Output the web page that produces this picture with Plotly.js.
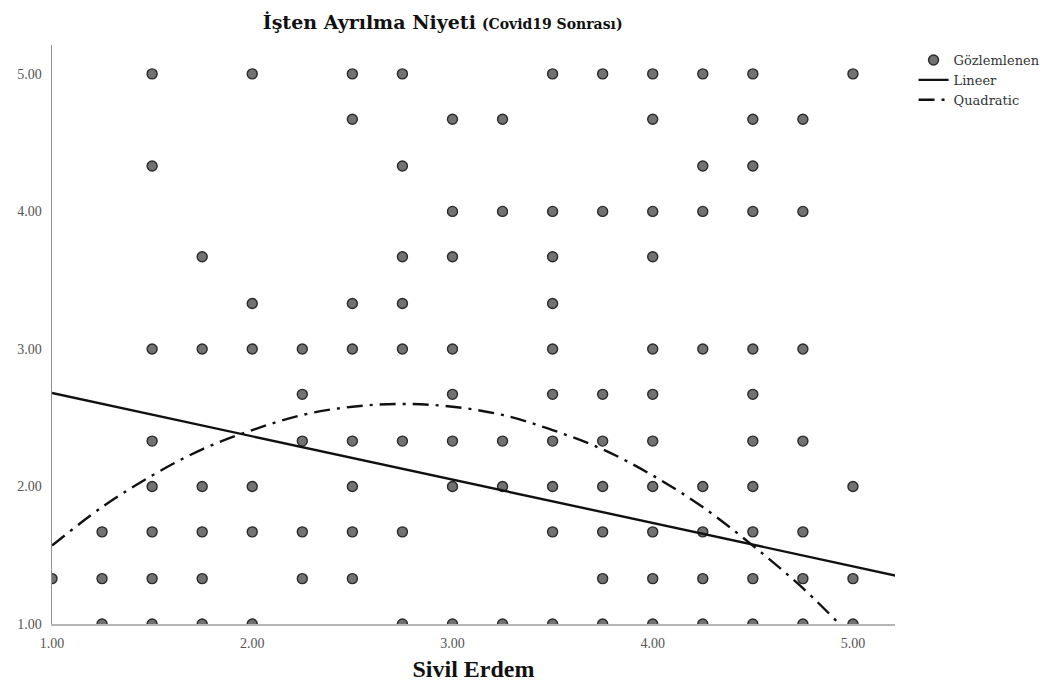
<!DOCTYPE html>
<html><head><meta charset="utf-8">
<script src="https://cdn.plot.ly/plotly-3.0.1.min.js"></script>
<style>html,body{margin:0;padding:0;background:#fff;}#chart{width:1059px;height:690px;}</style>
</head><body><div id="chart"></div>
<script>
// Observed points: one x-list per y level
const yLevels = [5.00, 4.67, 4.33, 4.00, 3.67, 3.33, 3.00, 2.67, 2.33, 2.00, 1.67, 1.33, 1.00];
const xByLevel = [
  [1.5, 2.0, 2.5, 2.75, 3.5, 3.75, 4.0, 4.25, 4.5, 5.0],
  [2.5, 3.0, 3.25, 4.0, 4.5, 4.75],
  [1.5, 2.75, 4.25, 4.5],
  [3.0, 3.25, 3.5, 3.75, 4.0, 4.25, 4.5, 4.75],
  [1.75, 2.75, 3.0, 3.5, 4.0],
  [2.0, 2.5, 2.75, 3.5],
  [1.5, 1.75, 2.0, 2.25, 2.5, 2.75, 3.0, 3.5, 4.0, 4.25, 4.5, 4.75],
  [2.25, 3.0, 3.5, 3.75, 4.0, 4.5],
  [1.5, 2.25, 2.5, 2.75, 3.0, 3.25, 3.5, 3.75, 4.0, 4.5, 4.75],
  [1.5, 1.75, 2.0, 2.5, 3.0, 3.25, 3.5, 3.75, 4.0, 4.25, 4.5, 5.0],
  [1.25, 1.5, 1.75, 2.0, 2.25, 2.5, 2.75, 3.5, 3.75, 4.0, 4.25, 4.5, 4.75],
  [1.0, 1.25, 1.5, 1.75, 2.25, 2.5, 3.75, 4.0, 4.25, 4.5, 4.75, 5.0],
  [1.25, 1.5, 1.75, 2.0, 2.75, 3.0, 3.25, 3.5, 3.75, 4.0, 4.25, 4.5, 4.75, 5.0]
];
// Linear fit line
const linX = [1.0, 5.22];
const linY = [2.68, 1.35];
// Quadratic fit curve
const quadX = [1.0, 1.25, 1.5, 1.75, 2.0, 2.25, 2.5, 2.75, 3.0, 3.25, 3.5, 3.75, 4.0, 4.25, 4.5, 4.75, 5.0];
const quadY = [1.57, 1.85, 2.08, 2.27, 2.41, 2.52, 2.58, 2.60, 2.58, 2.52, 2.41, 2.27, 2.08, 1.85, 1.57, 1.26, 0.90];
const tickVals = [1, 2, 3, 4, 5];
const tickText = ["1.00", "2.00", "3.00", "4.00", "5.00"];
const seriesNames = ["Gözlemlenen", "Lineer", "Quadratic"];

const obsX = [], obsY = [];
yLevels.forEach((y, i) => xByLevel[i].forEach(x => { obsX.push(x); obsY.push(y); }));

const serif = "Liberation Serif, Times New Roman, serif";
const wideSerif = "DejaVu Serif, serif";
const traces = [
  {x: obsX, y: obsY, type: 'scatter', mode: 'markers', name: seriesNames[0],
   marker: {size: 10, color: '#727272', line: {color: '#2a2a2a', width: 1.4}}, cliponaxis: true},
  {x: linX, y: linY, type: 'scatter', mode: 'lines', name: seriesNames[1],
   line: {color: '#111', width: 2.4}},
  {x: quadX, y: quadY, type: 'scatter', mode: 'lines', name: seriesNames[2],
   line: {color: '#111', width: 2.4, dash: '16px,7px,3px,7px', shape: 'spline'}}
];
const layout = {
  width: 1059, height: 690,
  paper_bgcolor: '#fff', plot_bgcolor: '#fff',
  margin: {l: 52, r: 164, t: 45, b: 66},
  title: {text: "<b>İşten Ayrılma Niyeti</b> <b><span style='font-size:14px'>(Covid19 Sonrası)</span></b>",
          font: {family: wideSerif, size: 19, color: '#111'}, x: 0.418, xanchor: 'center', y: 0.968, yanchor: 'middle'},
  xaxis: {range: [1, 5.21], tickvals: tickVals, ticktext: tickText, showgrid: false, zeroline: false,
          showline: true, linecolor: '#b4b4b4', linewidth: 1.5, ticks: '', ticklabelstandoff: 6,
          tickfont: {family: serif, size: 14, color: '#555'},
          title: {text: '<b>Sivil Erdem</b>', font: {family: serif, size: 24, color: '#111'}, standoff: 10}},
  yaxis: {range: [1, 5.21], tickvals: tickVals, ticktext: tickText, showgrid: false, zeroline: false,
          showline: true, linecolor: '#909090', linewidth: 1.5, ticks: '', ticklabelstandoff: 6,
          tickfont: {family: serif, size: 14, color: '#555'}},
  showlegend: true,
  legend: {x: 1.022, y: 1.0, xanchor: 'left', yanchor: 'top', itemwidth: 30, tracegroupgap: 0,
           font: {family: wideSerif, size: 13, color: '#333'}, bgcolor: 'rgba(0,0,0,0)'}
};
Plotly.newPlot('chart', traces, layout, {displayModeBar: false, staticPlot: true});
</script></body></html>
